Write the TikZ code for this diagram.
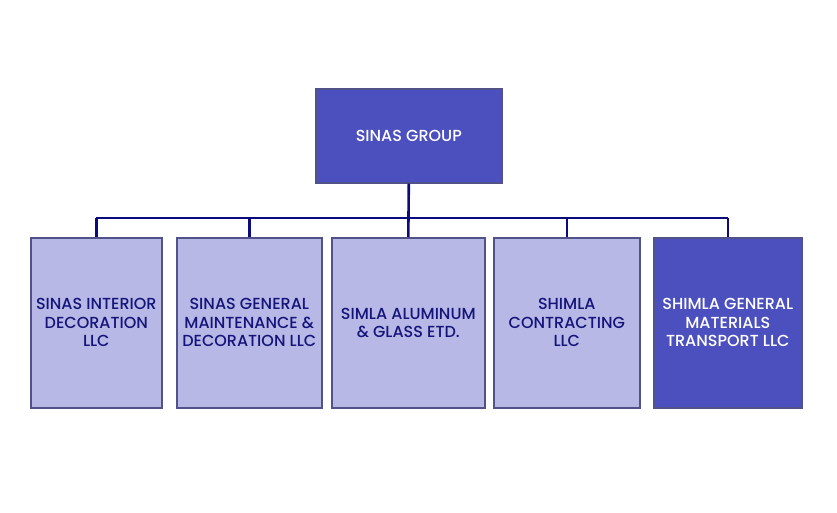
\documentclass[tikz,border=0pt]{standalone}
\usepackage{fontspec}
\setmainfont{Poppins}[UprightFont={* Medium}]
\usepackage{tikz}
\usetikzlibrary{positioning}
\definecolor{grpdark}{HTML}{4B50BE}
\definecolor{grplight}{HTML}{B8B8E6}
\definecolor{grpline}{HTML}{0B0B7E}
\definecolor{grpedge}{HTML}{52528A}
\definecolor{grptext}{HTML}{14147A}

\begin{document}
\begin{tikzpicture}[x=1pt,y=-1pt,font=\fontsize{16}{18.5}\selectfont,
  co/.style={draw=grpedge,line width=1.6pt,align=center,inner sep=0pt,anchor=north west},
  head/.style={co,fill=grpdark,text=white},
  sub/.style={co,fill=grplight,text=grptext,minimum height=170pt},
  link/.style={draw=grpline,line width=2.6pt}]
\useasboundingbox (0,0) rectangle (837,512);
\node[head,minimum width=186pt,minimum height=94pt] (grp) at (315,88) {SINAS GROUP};
\node[sub,minimum width=131pt] (c1) at (30,237) {SINAS INTERIOR\\DECORATION\\LLC};
\node[sub,minimum width=145pt] (c2) at (176,237) {SINAS GENERAL\\MAINTENANCE \&\\DECORATION LLC};
\node[sub,minimum width=153pt] (c3) at (331,237) {SIMLA ALUMINUM\\\& GLASS ETD.};
\node[sub,minimum width=146pt] (c4) at (493,237) {SHIMLA\\CONTRACTING\\LLC};
\node[sub,fill=grpdark,text=white,minimum width=148pt] (c5) at (653,237) {SHIMLA GENERAL\\MATERIALS\\TRANSPORT LLC};
\coordinate (busl) at (c1.north |- 0,218);
\coordinate (busr) at (c5.north |- 0,218);
\draw[link] (busl) -- (busr);
\draw[link] (grp.south) -- (c3.north);
\foreach \c in {c1,c2,c4,c5}
  \draw[link] (\c.north |- busl) -- (\c.north);
\end{tikzpicture}
\end{document}
